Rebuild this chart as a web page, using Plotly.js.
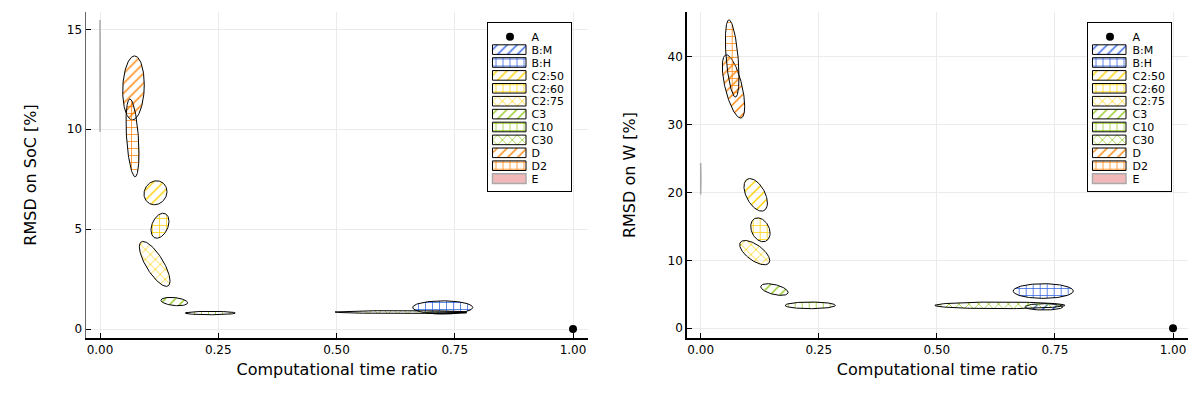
<!DOCTYPE html>
<html><head><meta charset="utf-8">
<script src="https://cdn.plot.ly/plotly-3.0.1.min.js"></script>
<style>html,body{margin:0;padding:0;background:#fff}#c{width:1200px;height:400px}</style>
</head><body><div id="c"></div>
<script>
// Series names, colours and fill patterns
const names    = ["A","B:M","B:H","C2:50","C2:60","C2:75","C3","C10","C30","D","D2","E"];
const colors   = ["#000000","#2a5fe0","#2a5fe0","#ffd000","#ffd000","#ffd000","#90c81e","#90c81e","#90c81e","#ff8000","#ff8000","#f0b8b8"];
const patterns = ["", "/", "+", "/", "+", "x", "/", "+", "x", "/", "+", ""];

// Left panel (RMSD on SoC): ellipse centre x, centre y, x half-width, y half-height, tilt (correlation)
const socCx  = [1.00, 0.731, 0.7245, 0.1173, 0.1268, 0.1156, 0.157, 0.233, 0.636, 0.0708, 0.0687, 0.0];
const socCy  = [0.0, 0.815, 1.08, 6.82, 5.17, 3.26, 1.375, 0.80, 0.85, 12.07, 9.57, 12.67];
const socRx  = [0, 0.044, 0.0634, 0.0243, 0.019, 0.0324, 0.0282, 0.0529, 0.139, 0.0228, 0.0137, 0.0006];
const socRy  = [0, 0.05, 0.33, 0.60, 0.625, 1.125, 0.21, 0.085, 0.07, 1.60, 1.95, 2.80];
const socRho = [0, 0, 0, 0.1, 0.35, -0.76, -0.3, 0, 0, 0.1, -0.4, 0];

// Right panel (RMSD on W)
const wCx  = [1.00, 0.7267, 0.7252, 0.1165, 0.1264, 0.1144, 0.1561, 0.232, 0.6335, 0.0695, 0.0667, 0.0];
const wCy  = [0.0, 3.16, 5.49, 19.66, 14.51, 11.15, 5.71, 3.38, 3.38, 35.63, 39.75, 22.03];
const wRx  = [0, 0.0403, 0.0636, 0.0248, 0.0205, 0.0318, 0.029, 0.0534, 0.1377, 0.0237, 0.0144, 0.0006];
const wRy  = [0, 0.47, 1.08, 2.40, 1.76, 1.79, 0.86, 0.49, 0.49, 4.66, 5.69, 2.32];
const wRho = [0, 0, 0, -0.5, -0.28, -0.65, -0.5, 0, 0, -0.63, -0.47, 0];

function ellipse(cx, cy, rx, ry, rho){
  const xs=[], ys=[], n=120, s=Math.sqrt(1-rho*rho);
  for(let i=0;i<=n;i++){
    const t=2*Math.PI*i/n;
    xs.push(cx + rx*Math.cos(t));
    ys.push(cy + ry*(rho*Math.cos(t) + s*Math.sin(t)));
  }
  return {x:xs,y:ys};
}

function build(cxA, cyA, rxA, ryA, rhoA, xa, ya, lg){
  const out=[];
  names.forEach((nm,i)=>{
    if(nm==="A"){
      out.push({type:'scatter',mode:'markers',x:[cxA[i]],y:[cyA[i]],name:nm,xaxis:xa,yaxis:ya,legend:lg,
        marker:{color:'#000',size:8,line:{width:0}}});
      return;
    }
    const e=ellipse(cxA[i],cyA[i],rxA[i],ryA[i],rhoA[i]);
    const tr={type:'scatter',mode:'lines',x:e.x,y:e.y,name:nm,xaxis:xa,yaxis:ya,legend:lg,
      fill:'toself',hoverinfo:'name',
      line:{color: nm==="E" ? '#aaaaaa' : '#000000', width: nm==="E" ? 1.5 : 1}};
    if(patterns[i]){
      tr.fillcolor='rgba(0,0,0,0)';
      tr.fillpattern={shape:patterns[i],fgcolor:colors[i],size:7,solidity:0.2};
    } else {
      tr.fillcolor=colors[i];
    }
    out.push(tr);
  });
  return out;
}

const data = build(socCx,socCy,socRx,socRy,socRho,'x','y','legend')
  .concat(build(wCx,wCy,wRx,wRy,wRho,'x2','y2','legend2'));

const fnt={family:'DejaVu Sans, sans-serif',size:12,color:'#000'};
const xbase={range:[-0.0296,1.0317],tickvals:[0,0.25,0.5,0.75,1],ticktext:['0.00','0.25','0.50','0.75','1.00'],
  showgrid:true,gridcolor:'#ebebeb',gridwidth:1,zeroline:false,showline:true,linecolor:'#000',linewidth:1.5,
  ticks:'inside',ticklen:5,tickcolor:'#000',tickfont:fnt,
  title:{text:'Computational time ratio',font:{family:'DejaVu Sans, sans-serif',size:16,color:'#000'},standoff:8}};
const ybase={showgrid:true,gridcolor:'#ebebeb',gridwidth:1,zeroline:false,showline:true,linecolor:'#000',linewidth:1.5,
  ticks:'inside',ticklen:5,tickcolor:'#000',tickfont:fnt};
const lgbase={bgcolor:'#fff',bordercolor:'#000',borderwidth:1,font:{family:'DejaVu Sans, sans-serif',size:11,color:'#000'},
  xanchor:'right',yanchor:'top',tracegroupgap:0,itemwidth:30};

const layout={
  width:1200,height:400,margin:{l:0,r:0,t:0,b:0},paper_bgcolor:'#fff',plot_bgcolor:'#fff',showlegend:true,
  xaxis:Object.assign({},xbase,{domain:[86/1200,588/1200],anchor:'y'}),
  yaxis:Object.assign({},ybase,{domain:[62/400,388/400],anchor:'x',range:[-0.45,15.87],tickvals:[0,5,10,15],
    linecolor:'#666',
    title:{text:'RMSD on SoC [%]',font:{family:'DejaVu Sans, sans-serif',size:16,color:'#000'},standoff:26}}),
  xaxis2:Object.assign({},xbase,{domain:[686.7/1200,1188/1200],anchor:'y2'}),
  yaxis2:Object.assign({},ybase,{domain:[62/400,388/400],anchor:'x2',range:[-1.43,46.6],tickvals:[0,10,20,30,40],
    title:{text:'RMSD on W [%]',font:{family:'DejaVu Sans, sans-serif',size:16,color:'#000'},standoff:28}}),
  legend:Object.assign({},lgbase,{x:571/1200,y:378/400}),
  legend2:Object.assign({},lgbase,{x:1171/1200,y:378/400})
};

// Compact the legends after drawing (Plotly enforces a minimum row height)
function compactLegend(gd, cls, right, top){
  const g=gd.querySelector('g.'+cls);
  if(!g) return;
  const W=84, step=12.9, first=14.4, H=first+step*11+12.5;
  g.setAttribute('transform','translate('+(right-W)+','+top+')');
  const bg=g.querySelector('rect.bg');
  if(bg){ bg.setAttribute('width',W); bg.setAttribute('height',H); bg.setAttribute('x',0); bg.setAttribute('y',0); }
  const sb=g.querySelector('g.scrollbox'); if(sb) sb.setAttribute('transform','translate(0,0)');
  sb && sb.removeAttribute('clip-path');
  const items=g.querySelectorAll('g.traces');
  items.forEach((it,i)=>{
    it.setAttribute('transform','translate(5.5,'+(first+step*i)+')');
    const txt=it.querySelector('text.legendtext'); if(txt) txt.setAttribute('x',39);
    const fp=it.querySelector('g.legendfill path');
    const lp=it.querySelector('g.legendlines path');
    const rectD='M0,-4.8h33.5v9.6h-33.5z';
    if(fp) fp.setAttribute('d',rectD);
    if(lp){ lp.setAttribute('d',rectD); lp.style.fill='none'; }
    const pt=it.querySelector('g.legendpoints path');
    if(pt && !fp){ pt.setAttribute('transform','translate(17.5,0)'); }
    const toggle=it.querySelector('rect.legendtoggle'); if(toggle) toggle.remove();
  });
}
Plotly.newPlot('c',data,layout,{displayModeBar:false,staticPlot:true}).then(gd=>{
  compactLegend(gd,'legend',571,22.3);
  compactLegend(gd,'legend2',1171,22.3);
});
</script></body></html>
